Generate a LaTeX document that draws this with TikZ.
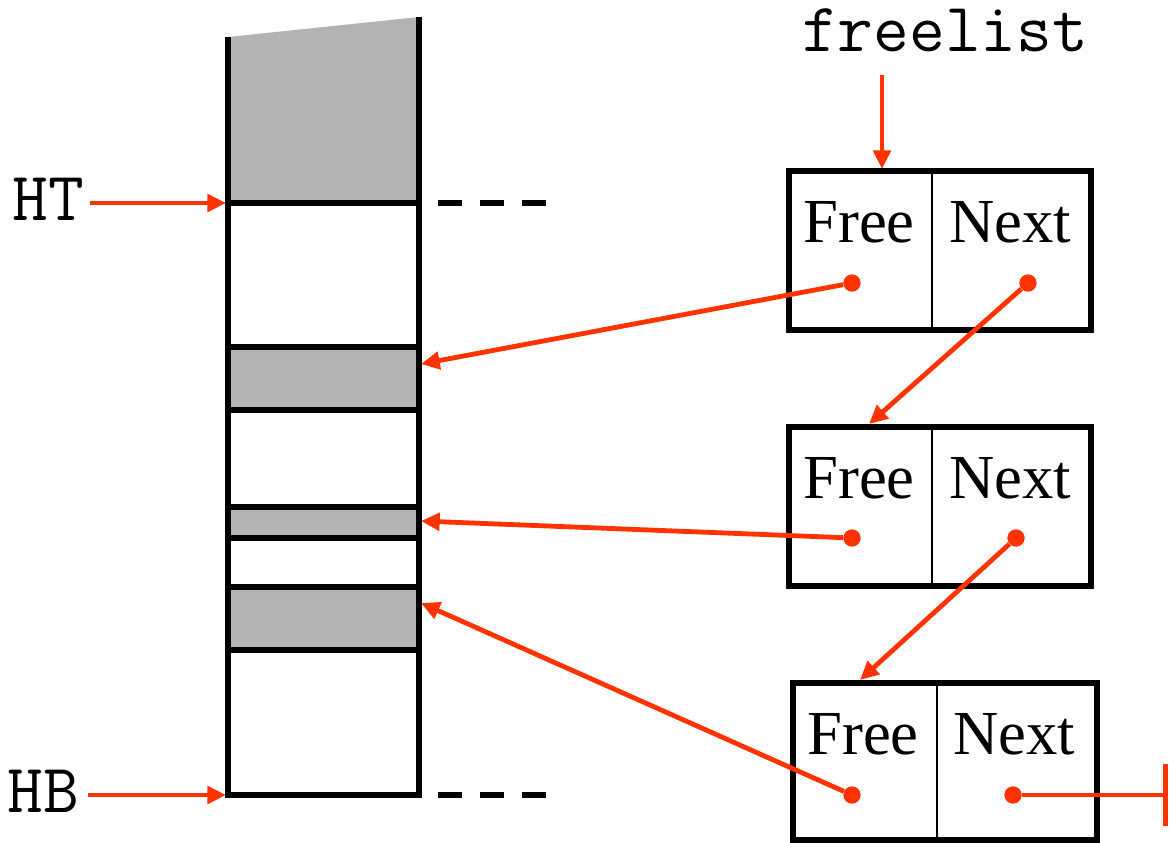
\documentclass[tikz,border=0pt]{standalone}
\usepackage{fontspec}
\setmainfont{Liberation Serif}
\usetikzlibrary{arrows.meta}
\definecolor{ptr}{HTML}{FF3300}
\definecolor{used}{HTML}{B3B3B3}
\tikzset{
  heapline/.style={line width=4.5pt, line join=miter},
  ptrline/.style={draw=ptr, line width=3.6pt, -{Triangle[length=14pt,width=13pt]}},
  dot/.style={circle, fill=ptr, inner sep=0pt, minimum size=13pt},
  cellbox/.style={draw, line width=4.5pt, rectangle, inner sep=0pt},
  celltext/.style={anchor=base, inner sep=0pt, font=\fontsize{47}{50}\selectfont},
  codetext/.style={anchor=base, inner sep=0pt, font=\ttfamily\fontsize{52}{54}\selectfont},
  dashline/.style={line width=4.5pt, dash pattern=on 18pt off 13.5pt},
}
\begin{document}
\begin{tikzpicture}[x=0.75pt, y=-0.75pt]
\useasboundingbox (0,0) rectangle (1170,842);

% used (grey) blocks of the heap
\fill[used] (228,37) -- (419,17) -- (419,203) -- (228,203) -- cycle;
\fill[used] (228,347) rectangle (419,410);
\fill[used] (228,507) rectangle (419,538);
\fill[used] (228,587) rectangle (419,650);

% heap walls and block boundaries
\draw[heapline] (228,37) -- (228,795) -- (419,795) -- (419,17);
\foreach \yy in {203,347,410,507,538,587,650}
  \draw[heapline] (228,\yy) -- (419,\yy);
\draw[dashline] (438,203) -- (548,203);
\draw[dashline] (438,795) -- (548,795);

% heap top / bottom markers
\node[codetext] (ht) at (48,220) {HT};
\node[codetext] (hb) at (43,812) {HB};
\coordinate (htsrc) at (90,203);
\coordinate (hbsrc) at (88,795);
\coordinate (httgt) at (226,203);
\coordinate (hbtgt) at (226,795);
\draw[ptrline] (htsrc) -- (httgt);
\draw[ptrline] (hbsrc) -- (hbtgt);

% free list head
\node[codetext] (freelist) at (945,52) {freelist};
\coordinate (flsrc) at (882,75);
\coordinate (fltgt) at (882,169);
\draw[ptrline] (flsrc) -- (fltgt);

% free-list cells
\node[cellbox, minimum width=226.5pt, minimum height=119.25pt] (box1) at (940,250.5) {};
\node[cellbox, minimum width=226.5pt, minimum height=119.25pt] (box2) at (940,506) {};
\node[cellbox, minimum width=228pt, minimum height=117.75pt] (box3) at (945,761.5) {};
\draw[line width=1.1pt] (932,171) -- (932,330);
\draw[line width=1.1pt] (932,427) -- (932,585);
\draw[line width=1.1pt] (937,683) -- (937,840);

\node[celltext] (free1) at (859,242) {Free};
\node[celltext] (next1) at (1010,242) {Next};
\node[celltext] (free2) at (859,498) {Free};
\node[celltext] (next2) at (1010,498) {Next};
\node[celltext] (free3) at (863,754) {Free};
\node[celltext] (next3) at (1014,754) {Next};

% pointer fields
\node[dot] (f1) at (852,283) {};
\node[dot] (n1) at (1028,283) {};
\node[dot] (f2) at (852,538) {};
\node[dot] (n2) at (1016,538) {};
\node[dot] (f3) at (852,795) {};
\node[dot] (n3) at (1013,795) {};

% targets
\coordinate (blk1) at (421,364);
\coordinate (blk2) at (421,521);
\coordinate (blk3) at (421,603);
\coordinate (box2in) at (869,424);
\coordinate (box3in) at (860,680);
\coordinate (nil) at (1168,795);

\draw[ptrline] (f1) -- (blk1);
\draw[ptrline] (f2) -- (blk2);
\draw[ptrline] (f3) -- (blk3);
\draw[ptrline] (n1) -- (box2in);
\draw[ptrline] (n2) -- (box3in);
\draw[draw=ptr, line width=3.6pt, -{Bar[width=47pt, line width=3.6pt]}] (n3) -- (nil);
\end{tikzpicture}
\end{document}
